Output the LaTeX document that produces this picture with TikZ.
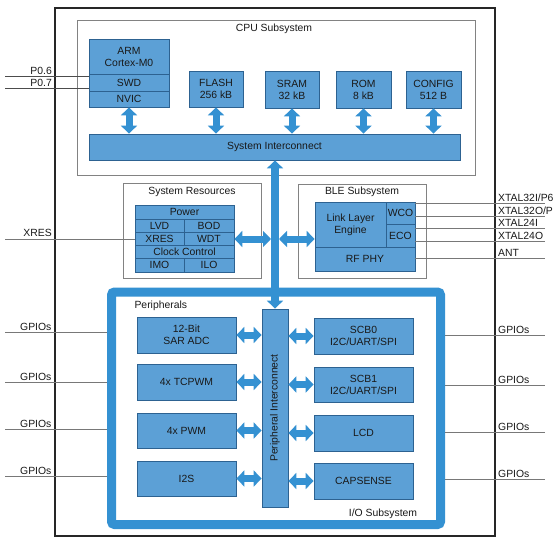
\documentclass[tikz,border=0pt]{standalone}
\usepackage{fontspec}
\setmainfont{Liberation Sans}
\usetikzlibrary{arrows.meta}
\definecolor{boxfill}{RGB}{92,160,214}
\definecolor{boxline}{RGB}{45,98,145}
\definecolor{arrowblue}{RGB}{52,145,210}
\definecolor{frameline}{RGB}{130,130,130}
\definecolor{wireline}{RGB}{120,120,120}
\tikzset{
  every node/.style={font=\fontsize{10.4}{12}\selectfont, text=black!90},
  blk/.style={draw=boxline, line width=0.8pt, fill=boxfill, inner sep=0pt, align=center},
  grp/.style={draw=frameline, line width=0.9pt},
  dbl/.style={draw=arrowblue, line width=7pt, {Triangle[width=16pt,length=8pt]}-{Triangle[width=16pt,length=8pt]}},
  wire/.style={draw=wireline, line width=0.7pt},
  lbl/.style={inner sep=1pt},
}
\newcommand{\blkat}[6]{\node[blk, minimum width={(#4-#2)*1pt}, minimum height={(#5-#3)*1pt}] (#1) at ({(#2+#4)/2},{(#3+#5)/2}) {#6};}
\begin{document}
\begin{tikzpicture}[x=1pt,y=-1pt]
\useasboundingbox (0,0) rectangle (554,543);
\fill[white] (0,0) rectangle (554,543);
% outer chip
\draw[line width=1.6pt, black!85] (55,8) rectangle (495,536);
% CPU subsystem
\draw[grp] (77,20) rectangle (475,175);
\node (cputitle) at (274,29) {CPU Subsystem};
\blkat{arm}{89}{39}{169}{74}{ARM\\Cortex-M0}
\blkat{swd}{89}{74}{169}{91}{SWD}
\blkat{nvic}{89}{91}{169}{107}{NVIC}
\blkat{flash}{189}{71}{243}{107}{FLASH\\256 kB}
\blkat{sram}{265}{71}{319}{108}{SRAM\\32 kB}
\blkat{rom}{336}{71}{391}{108}{ROM\\8 kB}
\blkat{config}{406}{71}{461}{108}{CONFIG\\512 B}
\blkat{sysic}{89}{134}{460}{160}{System Interconnect}
\foreach \b in {nvic,flash,sram,rom,config}{
  \draw[dbl] (\b.south) -- (\b.south |- sysic.north);
}
% P0.6 / P0.7
\coordinate (p6) at (5,76);
\coordinate (p7) at (5,88);
\draw[wire, black!70] (p6) -- (p6 -| arm.west);
\draw[wire, black!70] (p7) -- (p7 -| arm.west);
\node[lbl, anchor=south east] (p6l) at (53,76) {P0.6};
\node[lbl, anchor=south east] (p7l) at (53,88) {P0.7};
% System resources
\draw[grp] (123,183) rectangle (261,278);
\node (srtitle) at (192,192) {System Resources};
\blkat{power}{135}{205}{234}{219}{Power}
\blkat{lvd}{135}{219}{184}{232}{LVD}
\blkat{bod}{184}{219}{234}{232}{BOD}
\blkat{xres}{135}{232}{184}{245}{XRES}
\blkat{wdt}{184}{232}{234}{245}{WDT}
\blkat{clk}{135}{245}{234}{258}{Clock Control}
\blkat{imo}{135}{258}{184}{272}{IMO}
\blkat{ilo}{184}{258}{234}{272}{ILO}
\coordinate (xresin) at (5,239);
\draw[wire] (xresin) -- (xresin -| xres.west);
\node[lbl, anchor=south east] (xresl) at (53,238) {XRES};
% BLE subsystem
\draw[grp] (298,184) rectangle (426,278);
\node (bletitle) at (362,192) {BLE Subsystem};
\blkat{lle}{315}{202}{386}{247}{Link Layer\\Engine}
\blkat{wco}{386}{202}{415}{224}{WCO}
\blkat{eco}{386}{224}{415}{247}{ECO}
\blkat{rf}{315}{247}{415}{271}{RF PHY}
\foreach \y/\t/\n in {203/{XTAL32I/P6}/xa, 216/{XTAL32O/P}/xb, 228/{XTAL24I}/xc, 241/{XTAL24O}/xd, 258/{ANT}/xe}{
  \coordinate (\n) at (545,\y);
  \draw[wire] (\n -| wco.east) -- (\n);
  \node[lbl, anchor=south west] at (497,\y) {\t};
}
% I/O subsystem frame
\draw[arrowblue, line width=9pt, rounded corners=3pt] (111.5,292) rectangle (440.5,524.5);
\node[anchor=west] (pertitle) at (131,306) {Peripherals};
\node (iotitle) at (383,514) {I/O Subsystem};
% rotated so that the text reads bottom to top: east anchor is at the top,
% north anchor on the left, south anchor on the right
\node[blk, minimum width=198pt, minimum height=26pt, rotate=90] (pic) at (275,408) {Peripheral Interconnect};
% central arrows
\coordinate (mid) at (275,239);
\draw[dbl, line width=8pt] (sysic.south -| mid) -- (pic.east);
\draw[dbl] (wdt.east |- mid) -- ([xshift=-4pt]mid);
\draw[dbl] ([xshift=4pt]mid) -- (lle.west |- mid);
% peripheral blocks
\blkat{adc}{137}{317}{236}{353}{12-Bit\\SAR ADC}
\blkat{tcpwm}{137}{364}{236}{400}{4x TCPWM}
\blkat{pwm}{137}{413}{236}{448}{4x PWM}
\blkat{i2s}{137}{461}{236}{496}{I2S}
\blkat{scb0}{314}{318}{413}{354}{SCB0\\I2C/UART/SPI}
\blkat{scb1}{314}{367}{413}{402}{SCB1\\I2C/UART/SPI}
\blkat{lcd}{314}{415}{413}{451}{LCD}
\blkat{cap}{314}{463}{413}{499}{CAPSENSE}
\foreach \b in {adc,tcpwm,pwm,i2s}{
  \draw[dbl] (\b.east) -- (\b.east -| pic.north);
}
\foreach \b in {scb0,scb1,lcd,cap}{
  \draw[dbl] (\b.west) -- (\b.west -| pic.south);
}
% GPIO wires
\foreach \y/\n in {332/ga, 382/gb, 429/gc, 476/gd}{
  \coordinate (\n) at (5,\y);
  \draw[wire] (\n) -- (107,\y);
  \node[lbl, anchor=south west] at (19,\y) {GPIOs};
}
\foreach \y/\n in {335/gra, 385/grb, 432/grc, 479/grd}{
  \coordinate (\n) at (545,\y);
  \draw[wire] (445,\y) -- (\n);
  \node[lbl, anchor=south west] at (497,\y) {GPIOs};
}
\end{tikzpicture}
\end{document}
